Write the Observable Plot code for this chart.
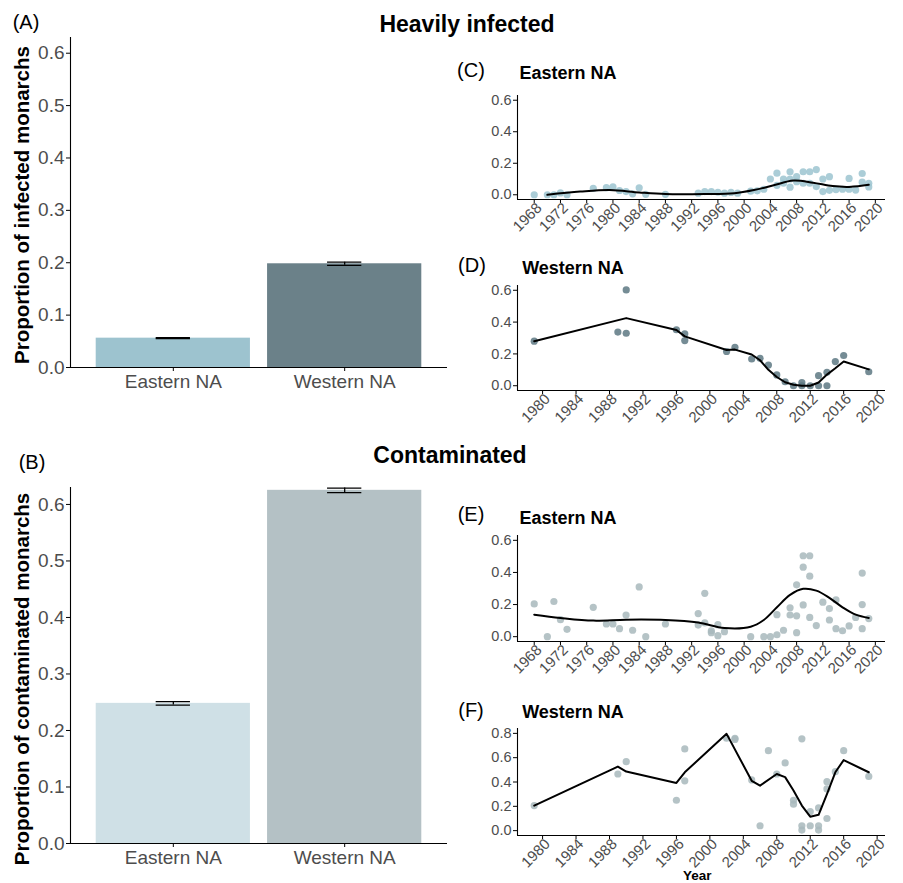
<!DOCTYPE html>
<html>
<head>
<meta charset="utf-8">
<script src="https://cdn.jsdelivr.net/npm/d3@7"></script>
<script src="https://cdn.jsdelivr.net/npm/@observablehq/plot@0.6"></script>
<style>
  html, body { margin: 0; padding: 0; background: #fff; overflow: hidden; }
  #root { position: relative; width: 903px; height: 883px; overflow: hidden; font-family: "Liberation Sans", Arial, sans-serif; }
  .panel { position: absolute; }
  .lbl { position: absolute; white-space: nowrap; color: #000; line-height: 1; }
  .c { transform: translate(-50%, -50%); }
  .tag { font-size: 20px; }
  .main { font-size: 23px; font-weight: bold; }
  .sub { font-size: 18px; font-weight: bold; }
  .ytitle { font-size: 20.5px; font-weight: bold; transform: translate(-50%, -50%) rotate(-90deg); }
</style>
</head>
<body>
<div id="root">
  <div id="pA" class="panel" style="left:0px; top:0px;"></div>
  <div id="pB" class="panel" style="left:0px; top:460px;"></div>
  <div id="pC" class="panel" style="left:450px; top:85px;"></div>
  <div id="pD" class="panel" style="left:450px; top:275px;"></div>
  <div id="pE" class="panel" style="left:450px; top:525px;"></div>
  <div id="pF" class="panel" style="left:450px; top:718px;"></div>

  <div class="lbl tag c" style="left:26px; top:22px;">(A)</div>
  <div class="lbl main c" style="left:467px; top:24px;">Heavily infected</div>
  <div class="lbl tag c" style="left:32px; top:462px;">(B)</div>
  <div class="lbl main c" style="left:450px; top:455px;">Contaminated</div>
  <div class="lbl ytitle" style="left:22px; top:205px;">Proportion of infected monarchs</div>
  <div class="lbl ytitle" style="left:22px; top:679px;">Proportion of contaminated monarchs</div>

  <div class="lbl tag c" style="left:471px; top:70px;">(C)</div>
  <div class="lbl sub c" style="left:568px; top:73px;">Eastern NA</div>
  <div class="lbl tag c" style="left:472px; top:265px;">(D)</div>
  <div class="lbl sub c" style="left:573px; top:268px;">Western NA</div>
  <div class="lbl tag c" style="left:471px; top:514px;">(E)</div>
  <div class="lbl sub c" style="left:568px; top:518px;">Eastern NA</div>
  <div class="lbl tag c" style="left:471px; top:710px;">(F)</div>
  <div class="lbl sub c" style="left:573px; top:712px;">Western NA</div>
  <div class="lbl" style="left:683px; top:869px; font-size:13.5px; font-weight:bold;">Year</div>
</div>
<script>
// ---------- Data ----------
const regions = ["Eastern NA", "Western NA"];
const heavyMean = [0.056, 0.198];
const heavySE = [0.001, 0.003];
const contamMean = [0.248, 0.625];
const contamSE = [0.003, 0.004];
const heavyColors = ["#9dc3cf", "#6b8189"];
const contamColors = ["#cfe0e6", "#b4c1c5"];

// (C) Eastern NA, heavily infected
const yearsC = [1968,1970,1971,1972,1973,1977,1979,1980,1981,1982,1983,1984,1985,1988,1993,1994,1995,1996,1997,1998,1999,2001,2002,2003,2004,2005,2005,2006,2006,2007,2007,2007,2008,2008,2009,2009,2010,2010,2011,2011,2012,2012,2013,2013,2014,2015,2016,2016,2017,2018,2018,2019,2019];
const valsC = [0,0,0,0.012,0,0.04,0.045,0.05,0.027,0.02,0.006,0.044,0.003,0.003,0.01,0.02,0.02,0.016,0.01,0.015,0.01,0.023,0.025,0.035,0.1,0.137,0.06,0.1,0.073,0.146,0.1,0.048,0.115,0.083,0.146,0.073,0.146,0.073,0.16,0.052,0.1,0.02,0.115,0.028,0.033,0.035,0.104,0.035,0.03,0.135,0.08,0.073,0.05];
const smoothYearsC = [1970,1975,1979.5,1984,1988,1994,1998.5,2001.5,2004.5,2007.5,2010.5,2013.5,2016,2019];
const smoothValsC = [0.0,0.02,0.03,0.015,0.005,0.005,0.01,0.03,0.06,0.09,0.077,0.055,0.05,0.063];

// (D) Western NA, heavily infected
const yearsD = [1979,1989,1990,1990,1996,1997,1997,2002,2003,2005,2006,2007,2008,2009,2010,2011,2011,2012,2013,2013,2014,2014,2015,2016,2019];
const valsD = [0.28,0.337,0.33,0.602,0.352,0.326,0.284,0.215,0.242,0.168,0.172,0.13,0.068,0.025,0.0,0.02,0.0,0.0,0.063,0.0,0.084,0.0,0.152,0.19,0.088];
const smoothYearsD = [1979,1990,1996,1997,2002,2003,2005,2006,2007,2008,2009,2010,2011,2012,2013,2014,2015,2016,2019];
const smoothValsD = [0.28,0.425,0.35,0.31,0.225,0.227,0.196,0.16,0.1,0.055,0.022,0.006,0.0,0.0,0.02,0.07,0.11,0.152,0.103];

// (E) Eastern NA, contaminated
const yearsE = [1968,1970,1971,1972,1973,1977,1979,1980,1981,1982,1983,1984,1985,1988,1993,1993,1994,1994,1995,1995,1996,1996,1997,2001,2003,2004,2005,2005,2006,2007,2007,2008,2008,2008,2009,2009,2009,2010,2010,2010,2011,2012,2013,2013,2014,2014,2015,2016,2017,2018,2018,2018,2019];
const valsE = [0.204,0,0.219,0.106,0.046,0.183,0.079,0.079,0.05,0.135,0.04,0.31,0,0.079,0.144,0.072,0.27,0.086,0.037,0.025,0.075,0.006,0.031,0,0,0,0.012,0.137,0.04,0.18,0.135,0.323,0.13,0.025,0.504,0.433,0.198,0.504,0.377,0.12,0.069,0.215,0.175,0.104,0.229,0.05,0.037,0.067,0.12,0.396,0.2,0.05,0.113];
const smoothYearsE = [1968,1972,1977,1982,1988,1993,1997,2001,2003,2005,2007,2009,2011,2013,2015,2017,2019];
const smoothValsE = [0.137,0.117,0.1,0.106,0.104,0.088,0.054,0.062,0.104,0.183,0.26,0.298,0.287,0.242,0.183,0.137,0.117];

// (F) Western NA, contaminated
const yearsF = [1979,1989,1990,1996,1997,1997,2002,2003,2003,2005,2006,2007,2008,2009,2010,2010,2011,2011,2011,2012,2012,2013,2013,2013,2014,2014,2014,2015,2016,2019];
const valsF = [0.206,0.466,0.568,0.25,0.672,0.41,0.76,0.76,0.75,0.417,0.04,0.658,0.466,0.557,0.25,0.218,0.755,0.04,0.005,0.156,0.04,0.187,0.04,0.005,0.403,0.343,0.1,0.485,0.658,0.446];
const smoothYearsF = [1979,1989,1990,1996,1997,2002,2005,2006,2008,2009,2010,2011,2012,2013,2014,2015,2016,2019];
const smoothValsF = [0.206,0.527,0.486,0.392,0.48,0.796,0.41,0.37,0.466,0.44,0.33,0.206,0.115,0.13,0.3,0.48,0.58,0.48];

const ticksEast = [1968,1972,1976,1980,1984,1988,1992,1996,2000,2004,2008,2012,2016,2020];
const ticksWest = [1980,1984,1988,1992,1996,2000,2004,2008,2012,2016,2020];
const barTicks = [0,0.1,0.2,0.3,0.4,0.5,0.6];

// ---------- Helpers ----------
const FONT = "'Liberation Sans', Arial, sans-serif";
const zip = (xs, ys) => xs.map((x, i) => ({year: x, value: ys[i]}));

function barPanel(id, means, ses, colors, height, mt, mb) {
  const bars = regions.map((r, i) => ({region: r, pos: i + 1, mean: means[i], lo: means[i] - ses[i], hi: means[i] + ses[i], color: colors[i]}));
  const chart = Plot.plot({
    width: 460, height,
    marginLeft: 70, marginRight: 13, marginTop: mt, marginBottom: mb,
    style: {fontFamily: FONT, background: "transparent", overflow: "visible"},
    x: {domain: [0.4, 2.6]},
    y: {domain: [0, 0.63]},
    color: {type: "identity"},
    marks: [
      Plot.rectY(bars, {x1: d => d.pos - 0.45, x2: d => d.pos + 0.45, y1: 0, y2: "mean", fill: "color"}),
      Plot.ruleX(bars, {x: "pos", y1: "lo", y2: "hi", stroke: "black", strokeWidth: 1.3}),
      Plot.ruleY(bars, {y: "lo", x1: d => d.pos - 0.1, x2: d => d.pos + 0.1, stroke: "black", strokeWidth: 1.3}),
      Plot.ruleY(bars, {y: "hi", x1: d => d.pos - 0.1, x2: d => d.pos + 0.1, stroke: "black", strokeWidth: 1.3}),
      Plot.ruleX([0.4], {stroke: "black", strokeWidth: 1.1}),
      Plot.ruleY([0], {stroke: "black", strokeWidth: 1.1}),
      Plot.axisX({ticks: [1, 2], tickFormat: i => regions[i - 1], tickSize: 4, tickPadding: 3, fontSize: 19, fill: "#4d4d4d", stroke: "black", label: null}),
      Plot.axisY({ticks: barTicks, tickFormat: d3.format(".1f"), tickSize: 4, tickPadding: 2, fontSize: 19, fill: "#4d4d4d", stroke: "black", label: null})
    ]
  });
  document.getElementById(id).appendChild(chart);
}

function timePanel(id, pts, smooth, xDomain, yDomain, yTicks, xTicks, color, height, mb, curve) {
  const chart = Plot.plot({
    width: 450, height,
    marginLeft: 67, marginRight: 15, marginTop: 10, marginBottom: mb,
    style: {fontFamily: FONT, background: "transparent", overflow: "visible"},
    x: {domain: xDomain},
    y: {domain: yDomain},
    marks: [
      Plot.ruleX([xDomain[0]], {stroke: "black", strokeWidth: 1.1}),
      Plot.ruleY([yDomain[0]], {stroke: "black", strokeWidth: 1.1}),
      Plot.axisX({ticks: xTicks, tickFormat: null, text: null, tickSize: 4, stroke: "black", label: null}),
      Plot.axisX({ticks: xTicks, tickFormat: d => String(d), tickRotate: -45, tickSize: 0, tickPadding: 6, dx: 5, fontSize: 15, fill: "#4d4d4d", stroke: "none", label: null}),
      Plot.axisY({ticks: yTicks, tickFormat: d3.format(".1f"), tickSize: 4, tickPadding: 2, fontSize: 14.5, fill: "#4d4d4d", stroke: "black", label: null}),
      Plot.dot(pts, {x: "year", y: "value", r: 3.6, fill: color, fillOpacity: 0.85, stroke: "none"}),
      Plot.line(smooth, {x: "year", y: "value", stroke: "black", strokeWidth: 2, curve})
    ]
  });
  document.getElementById(id).appendChild(chart);
}

// ---------- Panels ----------
barPanel("pA", heavyMean, heavySE, heavyColors, 400, 37, 33);
barPanel("pB", contamMean, contamSE, contamColors, 423, 27, 40);

timePanel("pC", zip(yearsC, valsC), zip(smoothYearsC, smoothValsC), [1965.45, 2021.55], [-0.03, 0.63], [0, 0.2, 0.4, 0.6], ticksEast, "#9cc4d0", 160, 46, "catmull-rom");
timePanel("pD", zip(yearsD, valsD), zip(smoothYearsD, smoothValsD), [1977, 2021], [-0.03, 0.63], [0, 0.2, 0.4, 0.6], ticksWest, "#5d7882", 160, 45, "linear");
timePanel("pE", zip(yearsE, valsE), zip(smoothYearsE, smoothValsE), [1965.45, 2021.55], [-0.03, 0.63], [0, 0.2, 0.4, 0.6], ticksEast, "#a8b8bc", 160, 44, "catmull-rom");
timePanel("pF", zip(yearsF, valsF), zip(smoothYearsF, smoothValsF), [1977, 2021], [-0.04, 0.84], [0, 0.2, 0.4, 0.6, 0.8], ticksWest, "#a8b8bc", 165, 48, "linear");
</script>
</body>
</html>
